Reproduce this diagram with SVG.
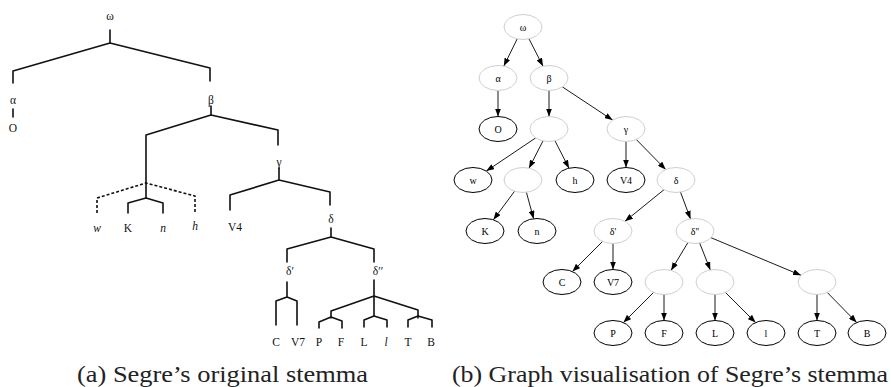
<svg xmlns="http://www.w3.org/2000/svg" width="891" height="387" viewBox="0 0 891 387">
<style>
.st{fill:none;stroke:#111;stroke-width:1.6;stroke-linejoin:round;stroke-linecap:round}
.ds{fill:none;stroke:#111;stroke-width:1.6;stroke-dasharray:3,2}
.sl{font-size:11.5px;fill:#111;text-anchor:middle}
.it{font-style:italic}
.cap{font-size:24px;fill:#222}
.ng ellipse{fill:#fff;stroke:#c8c8c8;stroke-width:0.9}
.nb ellipse{fill:#fff;stroke:#000;stroke-width:1}
.nl{font-size:10px;fill:#000;text-anchor:middle}
.e{fill:none;stroke:#000;stroke-width:0.9}
</style>
<defs>
<marker id="ah" markerUnits="userSpaceOnUse" markerWidth="8" markerHeight="6" refX="8" refY="3" orient="auto">
<path d="M0,0 L8,3 L0,6 z" fill="#000"/>
</marker>
</defs>

<g font-family="'Liberation Serif', serif">
<!-- (a) original stemma -->
<g id="stemma-a">
<path class="st" d="M110,30 V43 M13,83 V71 L110,43 L210,68 V81"/>
<path class="st" d="M13,109 V117"/>
<path class="st" d="M211,106 V115 M146,198 V135 L211,115 L278,130 V145"/>
<path class="ds" d="M97,213 V198 L146,183 L195,196 V212"/>
<path class="st" d="M128,213 V203 L146,198 L163,203 V213"/>
<path class="st" d="M279,168 V180 M230,210 V195 L279,180 L330,192 V205"/>
<path class="st" d="M331,228 V237 M287,262 V249 L331,237 L374,249 V262"/>
<path class="st" d="M287,282 V297 M276,325 V301 L287,297 L297,301 V325"/>
<path class="st" d="M374,280 V316 M331,318 V311 L374,296 L418,310 V318"/>
<path class="st" d="M319,328 V322 L331,317 L342,321 V328 M364,327 V320 L374,316 L387,320 V327 M408,327 V320 L418,316 L432,320 V327"/>
<text class="sl" x="110" y="20">ω</text>
<text class="sl" x="13" y="104">α</text>
<text class="sl" x="13" y="132">O</text>
<text class="sl" x="211" y="104">β</text>
<text class="sl" x="279" y="166">γ</text>
<text class="sl it" x="97" y="232">w</text>
<text class="sl" x="128" y="232">K</text>
<text class="sl it" x="163" y="232">n</text>
<text class="sl it" x="195" y="230">h</text>
<text class="sl" x="235" y="231">V4</text>
<text class="sl" x="331" y="223">δ</text>
<text class="sl" x="290" y="275">δ′</text>
<text class="sl" x="378" y="275">δ′′</text>
<text class="sl" x="276" y="346">C</text>
<text class="sl" x="298" y="346">V7</text>
<text class="sl" x="319" y="346">P</text>
<text class="sl" x="341" y="346">F</text>
<text class="sl" x="364" y="346">L</text>
<text class="sl it" x="386" y="346">l</text>
<text class="sl" x="408" y="346">T</text>
<text class="sl" x="431" y="346">B</text>
</g>
<text class="cap" x="77" y="382" textLength="291" lengthAdjust="spacingAndGlyphs">(a) Segre’s original stemma</text>

<!-- (b) graph -->
<g id="connectors" class="e">
<line x1="517.2" y1="38.9" x2="503.8" y2="66.1" marker-end="url(#ah)"/>
<line x1="529.0" y1="38.9" x2="543.0" y2="66.2" marker-end="url(#ah)"/>
<line x1="498" y1="90.5" x2="498" y2="116.5" marker-end="url(#ah)"/>
<line x1="549" y1="90.5" x2="549" y2="116.5" marker-end="url(#ah)"/>
<line x1="562.4" y1="86.9" x2="612.6" y2="120.1" marker-end="url(#ah)"/>
<line x1="535.7" y1="137.9" x2="486.3" y2="171.1" marker-end="url(#ah)"/>
<line x1="543.0" y1="140.9" x2="529.0" y2="168.2" marker-end="url(#ah)"/>
<line x1="555.0" y1="140.9" x2="569.0" y2="168.2" marker-end="url(#ah)"/>
<line x1="626" y1="141.5" x2="626" y2="167.5" marker-end="url(#ah)"/>
<line x1="636.3" y1="139.5" x2="665.7" y2="169.5" marker-end="url(#ah)"/>
<line x1="514.6" y1="191.2" x2="493.4" y2="219.8" marker-end="url(#ah)"/>
<line x1="526.4" y1="192.3" x2="533.6" y2="218.7" marker-end="url(#ah)"/>
<line x1="664.0" y1="189.7" x2="625.0" y2="221.3" marker-end="url(#ah)"/>
<line x1="680.5" y1="192.1" x2="690.5" y2="218.9" marker-end="url(#ah)"/>
<line x1="602.6" y1="241.4" x2="572.4" y2="271.6" marker-end="url(#ah)"/>
<line x1="613" y1="243.5" x2="613" y2="269.5" marker-end="url(#ah)"/>
<line x1="687.9" y1="242.6" x2="671.1" y2="270.4" marker-end="url(#ah)"/>
<line x1="699.7" y1="243.1" x2="710.3" y2="269.9" marker-end="url(#ah)"/>
<line x1="711.0" y1="237.7" x2="801.0" y2="275.3" marker-end="url(#ah)"/>
<line x1="653.6" y1="292.4" x2="623.4" y2="322.6" marker-end="url(#ah)"/>
<line x1="664" y1="294.5" x2="664" y2="320.5" marker-end="url(#ah)"/>
<line x1="715" y1="294.5" x2="715" y2="320.5" marker-end="url(#ah)"/>
<line x1="725.4" y1="292.4" x2="755.6" y2="322.6" marker-end="url(#ah)"/>
<line x1="817" y1="294.5" x2="817" y2="320.5" marker-end="url(#ah)"/>
<line x1="827.3" y1="292.5" x2="856.7" y2="322.5" marker-end="url(#ah)"/>
</g>

<g id="n-omega" class="ng"><ellipse cx="523" cy="27" rx="19" ry="12.5"/><text class="nl" x="523" y="30.5">ω</text></g>
<g id="n-alpha" class="ng"><ellipse cx="498" cy="78" rx="19" ry="12.5"/><text class="nl" x="498" y="81.5">α</text></g>
<g id="n-beta" class="ng"><ellipse cx="549" cy="78" rx="19" ry="12.5"/><text class="nl" x="549" y="81.5">β</text></g>
<g id="n-O" class="nb"><ellipse cx="498" cy="129" rx="19" ry="12.5"/><text class="nl" x="498" y="132.5">O</text></g>
<g id="n-x1" class="ng"><ellipse cx="549" cy="129" rx="19" ry="12.5"/></g>
<g id="n-gamma" class="ng"><ellipse cx="626" cy="129" rx="19" ry="12.5"/><text class="nl" x="626" y="132.5">γ</text></g>
<g id="n-w" class="nb"><ellipse cx="473" cy="180" rx="19" ry="12.5"/><text class="nl" x="473" y="183.5">w</text></g>
<g id="n-x2" class="ng"><ellipse cx="523" cy="180" rx="19" ry="12.5"/></g>
<g id="n-h" class="nb"><ellipse cx="575" cy="180" rx="19" ry="12.5"/><text class="nl" x="575" y="183.5">h</text></g>
<g id="n-V4" class="nb"><ellipse cx="626" cy="180" rx="19" ry="12.5"/><text class="nl" x="626" y="183.5">V4</text></g>
<g id="n-delta" class="ng"><ellipse cx="676" cy="180" rx="19" ry="12.5"/><text class="nl" x="676" y="183.5">δ</text></g>
<g id="n-K" class="nb"><ellipse cx="485" cy="231" rx="19" ry="12.5"/><text class="nl" x="485" y="234.5">K</text></g>
<g id="n-n" class="nb"><ellipse cx="537" cy="231" rx="19" ry="12.5"/><text class="nl" x="537" y="234.5">n</text></g>
<g id="n-delta1" class="ng"><ellipse cx="613" cy="231" rx="19" ry="12.5"/><text class="nl" x="613" y="234.5">δ'</text></g>
<g id="n-delta2" class="ng"><ellipse cx="695" cy="231" rx="19" ry="12.5"/><text class="nl" x="695" y="234.5">δ''</text></g>
<g id="n-C" class="nb"><ellipse cx="562" cy="282" rx="19" ry="12.5"/><text class="nl" x="562" y="285.5">C</text></g>
<g id="n-V7" class="nb"><ellipse cx="613" cy="282" rx="19" ry="12.5"/><text class="nl" x="613" y="285.5">V7</text></g>
<g id="n-x3" class="ng"><ellipse cx="664" cy="282" rx="19" ry="12.5"/></g>
<g id="n-x4" class="ng"><ellipse cx="715" cy="282" rx="19" ry="12.5"/></g>
<g id="n-x5" class="ng"><ellipse cx="817" cy="282" rx="19" ry="12.5"/></g>
<g id="n-P" class="nb"><ellipse cx="613" cy="333" rx="19" ry="12.5"/><text class="nl" x="613" y="336.5">P</text></g>
<g id="n-F" class="nb"><ellipse cx="664" cy="333" rx="19" ry="12.5"/><text class="nl" x="664" y="336.5">F</text></g>
<g id="n-L" class="nb"><ellipse cx="715" cy="333" rx="19" ry="12.5"/><text class="nl" x="715" y="336.5">L</text></g>
<g id="n-l" class="nb"><ellipse cx="766" cy="333" rx="19" ry="12.5"/><text class="nl" x="766" y="336.5">l</text></g>
<g id="n-T" class="nb"><ellipse cx="817" cy="333" rx="19" ry="12.5"/><text class="nl" x="817" y="336.5">T</text></g>
<g id="n-B" class="nb"><ellipse cx="867" cy="333" rx="19" ry="12.5"/><text class="nl" x="867" y="336.5">B</text></g>

<text class="cap" x="452" y="382" textLength="436" lengthAdjust="spacingAndGlyphs">(b) Graph visualisation of Segre’s stemma</text>
</g>
</svg>
